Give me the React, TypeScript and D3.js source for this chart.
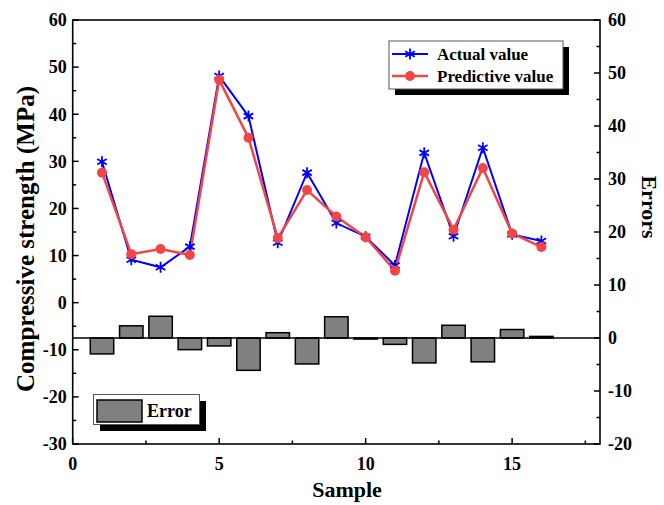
import React from "react";
import * as d3 from "d3";

const samples = [1, 2, 3, 4, 5, 6, 7, 8, 9, 10, 11, 12, 13, 14, 15, 16];
const actualValues = [29.9, 9.1, 7.5, 11.9, 48.1, 39.6, 12.7, 27.6, 16.9, 14.0, 7.9, 31.8, 14.1, 32.9, 14.5, 13.1];
const predictiveValues = [27.6, 10.3, 11.4, 10.1, 47.3, 35.0, 13.7, 23.9, 18.3, 13.9, 6.8, 27.7, 15.5, 28.6, 14.7, 11.8];
const errorValues = [-3.0, 2.3, 4.1, -2.2, -1.5, -6.1, 1.0, -4.9, 4.0, -0.2, -1.2, -4.7, 2.4, -4.5, 1.6, 0.3];

const xTicks = [0, 5, 10, 15];
const xMinor = [2.5, 7.5, 12.5, 17.5];
const yLeftTicks = [-30, -20, -10, 0, 10, 20, 30, 40, 50, 60];
const yRightTicks = [-20, -10, 0, 10, 20, 30, 40, 50, 60];

const FONT = "'Liberation Serif', 'Times New Roman', serif";
const BLUE = "#0000FF";
const RED = "#F04646";

export default function App() {
  const L = 72.7, R = 600, T = 20, B = 444;
  const x = d3.scaleLinear().domain([0, 18]).range([L, R]);
  const yL = d3.scaleLinear().domain([-30, 60]).range([B, T]);
  const yR = d3.scaleLinear().domain([-20, 60]).range([B, T]);
  const barW = x(0.8) - x(0);

  const lineA = d3.line<number>().x((_, i) => x(samples[i])).y((d) => yL(d));
  const leftMinor = d3.range(-25, 60, 10);
  const rightMinor = d3.range(-15, 60, 10);

  const star = (cx: number, cy: number, r: number) => {
    const a = Math.cos(Math.PI / 6) * r;
    const b = Math.sin(Math.PI / 6) * r;
    return `M${cx},${cy - r}L${cx},${cy + r}M${cx - a},${cy - b}L${cx + a},${cy + b}M${cx - a},${cy + b}L${cx + a},${cy - b}`;
  };

  return (
    <svg width={664} height={505} style={{ position: "absolute", left: 0, top: 0, background: "#fff" }} fontFamily={FONT}>
      <rect x={0} y={0} width={664} height={505} fill="#fff" />
      {/* bars */}
      {errorValues.map((e, i) => (
        <rect
          key={"b" + i}
          x={x(samples[i]) - barW / 2}
          y={Math.min(yR(e), yR(0))}
          width={barW}
          height={Math.abs(yR(e) - yR(0))}
          fill="#808080"
          stroke="#000"
          strokeWidth={1.5}
        />
      ))}
      <line x1={L} x2={R} y1={yR(0)} y2={yR(0)} stroke="#000" strokeWidth={1.3} />
      {/* lines */}
      <path d={lineA(actualValues) || ""} fill="none" stroke={BLUE} strokeWidth={2} />
      <path d={lineA(predictiveValues) || ""} fill="none" stroke={RED} strokeWidth={2.5} />
      {actualValues.map((v, i) => (
        <path key={"s" + i} d={star(x(samples[i]), yL(v), 5.5)} stroke={BLUE} strokeWidth={1.8} fill="none" />
      ))}
      {predictiveValues.map((v, i) => (
        <circle key={"c" + i} cx={x(samples[i])} cy={yL(v)} r={5} fill={RED} />
      ))}
      {/* frame */}
      <rect x={L} y={T} width={R - L} height={B - T} fill="none" stroke="#000" strokeWidth={1.6} />
      {/* left axis ticks */}
      {yLeftTicks.map((t) => (
        <g key={"yl" + t}>
          <line x1={L} x2={L + 6} y1={yL(t)} y2={yL(t)} stroke="#000" strokeWidth={1.5} />
          <text x={L - 6} y={yL(t)} dy="0.35em" textAnchor="end" fontSize={18} fontWeight="bold">{t}</text>
        </g>
      ))}
      {leftMinor.map((t) => (
        <line key={"ylm" + t} x1={L} x2={L + 3.5} y1={yL(t)} y2={yL(t)} stroke="#000" strokeWidth={1.5} />
      ))}
      {/* right axis ticks */}
      {yRightTicks.map((t) => (
        <g key={"yr" + t}>
          <line x1={R} x2={R - 6} y1={yR(t)} y2={yR(t)} stroke="#000" strokeWidth={1.5} />
          <text x={R + 8} y={yR(t)} dy="0.35em" textAnchor="start" fontSize={18} fontWeight="bold">{t}</text>
        </g>
      ))}
      {rightMinor.map((t) => (
        <line key={"yrm" + t} x1={R} x2={R - 3.5} y1={yR(t)} y2={yR(t)} stroke="#000" strokeWidth={1.5} />
      ))}
      {/* x axis ticks */}
      {xTicks.map((t) => (
        <g key={"x" + t}>
          <line x1={x(t)} x2={x(t)} y1={B} y2={B - 6} stroke="#000" strokeWidth={1.5} />
          <text x={x(t)} y={B + 20} dy="0.35em" textAnchor="middle" fontSize={18} fontWeight="bold">{t}</text>
        </g>
      ))}
      {xMinor.map((t) => (
        <line key={"xm" + t} x1={x(t)} x2={x(t)} y1={B} y2={B - 3.5} stroke="#000" strokeWidth={1.5} />
      ))}
      {/* axis titles */}
      <text transform={`translate(25,239) rotate(-90)`} dy="0.35em" textAnchor="middle" fontSize={25} fontWeight="bold">
        Compressive strength (MPa)
      </text>
      <text x={347} y={489} dy="0.35em" textAnchor="middle" fontSize={22} fontWeight="bold">Sample</text>
      <text transform={`translate(650,207) rotate(90)`} dy="0.35em" textAnchor="middle" fontSize={22} fontWeight="bold">
        Errors
      </text>
      {/* top legend */}
      <rect x={395} y={47} width={174} height={48} fill="#000" />
      <rect x={389} y={41} width={174} height={48} fill="#fff" stroke="#555" strokeWidth={1} />
      <line x1={392} x2={428} y1={54} y2={54} stroke={BLUE} strokeWidth={2} />
      <path d={star(410, 54, 5.5)} stroke={BLUE} strokeWidth={1.8} fill="none" />
      <text x={437} y={54} dy="0.35em" fontSize={17} fontWeight="bold">Actual value</text>
      <line x1={392} x2={428} y1={76} y2={76} stroke={RED} strokeWidth={2.5} />
      <circle cx={410} cy={76} r={5} fill={RED} />
      <text x={437} y={76} dy="0.35em" fontSize={17} fontWeight="bold">Predictive value</text>
      {/* bottom legend */}
      <rect x={100} y={401} width={106} height={30} fill="#000" />
      <rect x={93.5} y={394.5} width={106} height={30} fill="#fff" stroke="#555" strokeWidth={1} />
      <rect x={97} y={400} width={45} height={22} fill="#808080" stroke="#000" strokeWidth={1.5} />
      <text x={147} y={411} dy="0.35em" fontSize={18} fontWeight="bold">Error</text>
    </svg>
  );
}
